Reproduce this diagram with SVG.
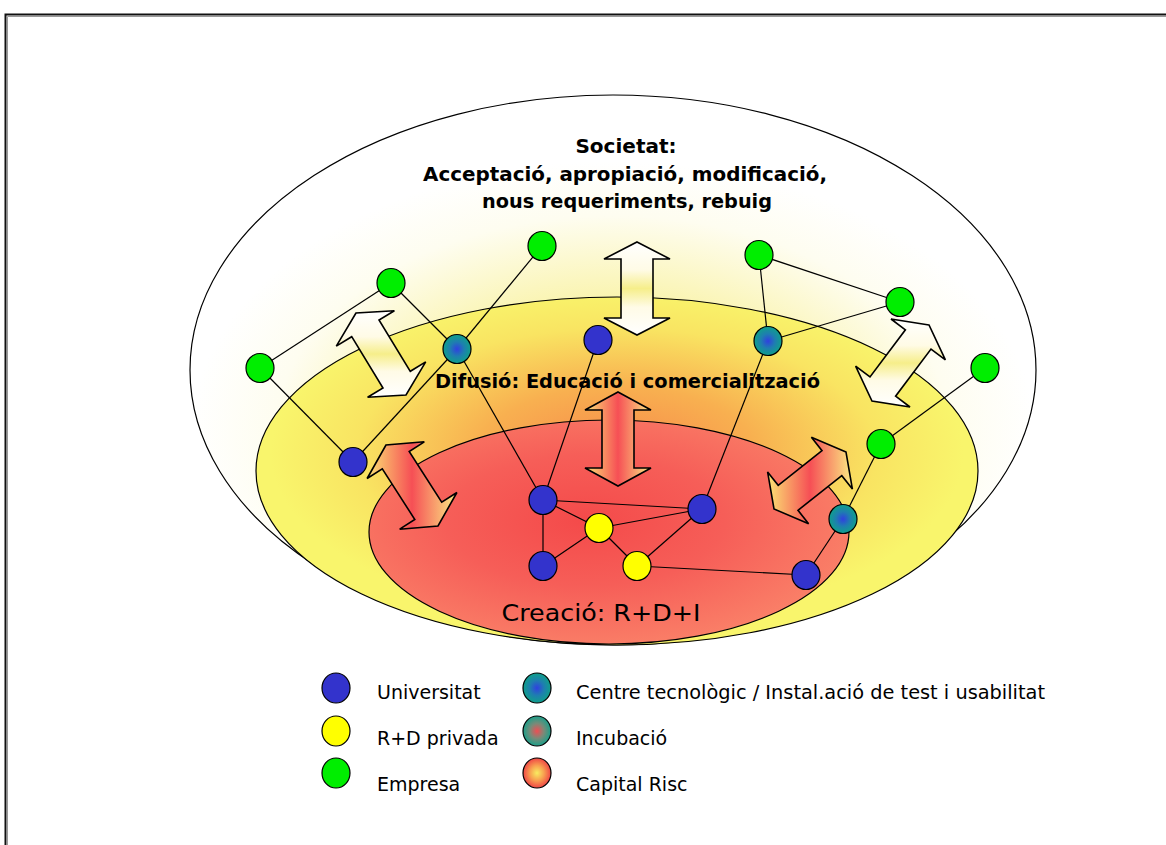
<svg xmlns="http://www.w3.org/2000/svg" width="1166" height="845" viewBox="0 0 1166 845">
  <defs>
    <radialGradient id="gSociety" cx="0.5" cy="0.62" r="0.5">
      <stop offset="0" stop-color="#f6ec60"/>
      <stop offset="0.5" stop-color="#faf4b0"/>
      <stop offset="0.8" stop-color="#fefdf0"/>
      <stop offset="1" stop-color="#ffffff"/>
    </radialGradient>
    <radialGradient id="gDiffusion" cx="0.5" cy="0.45" r="0.48">
      <stop offset="0" stop-color="#f7884a"/>
      <stop offset="0.4" stop-color="#f8b050"/>
      <stop offset="0.75" stop-color="#f9e462"/>
      <stop offset="1" stop-color="#f9f56c"/>
    </radialGradient>
    <radialGradient id="gCreation" cx="0.45" cy="0.45" r="0.58">
      <stop offset="0" stop-color="#f44a4a"/>
      <stop offset="0.5" stop-color="#f65e58"/>
      <stop offset="1" stop-color="#fa8068"/>
    </radialGradient>
    <linearGradient id="gWhiteArrow" x1="0" y1="0" x2="0" y2="1">
      <stop offset="0" stop-color="#ffffff"/>
      <stop offset="0.3" stop-color="#fffbe6"/>
      <stop offset="0.5" stop-color="#f6ee8a"/>
      <stop offset="0.7" stop-color="#fffbe6"/>
      <stop offset="1" stop-color="#ffffff"/>
    </linearGradient>
    <linearGradient id="gRedArrow" x1="0" y1="0" x2="1" y2="0">
      <stop offset="0" stop-color="#fbe574"/>
      <stop offset="0.5" stop-color="#f64f55"/>
      <stop offset="1" stop-color="#fbec84"/>
    </linearGradient>
    <radialGradient id="gTech" cx="0.5" cy="0.5" r="0.5">
      <stop offset="0" stop-color="#3040e0"/>
      <stop offset="0.5" stop-color="#1e7eb0"/>
      <stop offset="1" stop-color="#0fa08a"/>
    </radialGradient>
    <radialGradient id="gIncub" cx="0.5" cy="0.5" r="0.5">
      <stop offset="0" stop-color="#ee4e54"/>
      <stop offset="0.5" stop-color="#7a8a78"/>
      <stop offset="1" stop-color="#1aa08a"/>
    </radialGradient>
    <radialGradient id="gVenture" cx="0.5" cy="0.5" r="0.5">
      <stop offset="0" stop-color="#f8ec60"/>
      <stop offset="0.5" stop-color="#f8a050"/>
      <stop offset="1" stop-color="#f04646"/>
    </radialGradient>
  </defs>
  <style>
    .zone { stroke: #000; stroke-width: 1.2; }
    .arrow { stroke: #000; stroke-width: 1.6; stroke-linejoin: miter; }
    .white { fill: url(#gWhiteArrow); }
    .red { fill: url(#gRedArrow); }
    .link { stroke: #000; stroke-width: 1.2; fill: none; }
    .node { stroke: #000; stroke-width: 1.2; }
    .uni { fill: #3333cc; }
    .rd { fill: #ffff00; }
    .emp { fill: #00ee00; }
    .tech { fill: url(#gTech); }
    .incub { fill: url(#gIncub); }
    .venture { fill: url(#gVenture); }
    .label { font-family: "DejaVu Sans", Verdana, sans-serif; fill: #000; }
    .title { font-size: 20px; font-weight: bold; text-anchor: middle; }
    .legend { font-size: 19px; }
  </style>

  <rect x="0" y="0" width="1166" height="845" fill="#ffffff"/>
  <!-- page frame -->
  <path d="M5.5,845 V14.5 H1166" fill="none" stroke="#111" stroke-width="2"/>
  <path d="M7.5,845 V16.5 H1166" fill="none" stroke="#999" stroke-width="1"/>

  <!-- nested zones -->
  <g id="zone-societat">
    <ellipse class="zone" cx="613" cy="370" rx="423" ry="275" fill="url(#gSociety)"/>
  </g>
  <g id="zone-difusio">
    <ellipse class="zone" cx="617" cy="471" rx="361" ry="174" fill="url(#gDiffusion)"/>
  </g>
  <g id="zone-creacio">
    <ellipse class="zone" cx="609" cy="532" rx="240" ry="112" fill="url(#gCreation)"/>
  </g>

  <!-- exchange arrows between zones -->
  <g id="arrows">
    <path id="arrow-top" class="arrow white" d="M637,242 L670,259 L653,259 L653,318 L670,318 L637,335 L604,318 L621,318 L621,259 L604,259 Z"/>
    <path id="arrow-left-white" class="arrow white" d="M356,313 L336.3,346.1 L351.7,336.7 L383,388 L367.6,397.3 L406,395 L425.7,361.9 L410.3,371.3 L379,320 L394.4,310.7 Z"/>
    <path id="arrow-right-white" class="arrow white" d="M929,325 L891,319 L905.4,329.8 L870,377 L855.6,366.2 L872,401 L910,407 L895.6,396.2 L931,349 L945.4,359.8 Z"/>
    <path id="arrow-center-red" class="arrow red" d="M618,392 L651,410 L634,410 L634,468 L651,468 L618,486 L585,468 L602,468 L602,410 L585,410 Z"/>
    <path id="arrow-left-red" class="arrow red" d="M386,445 L367.1,478.5 L382.3,468.8 L414.8,519.5 L399.7,529.2 L438,526 L456.9,492.5 L441.7,502.2 L409.2,451.5 L424.3,441.8 Z"/>
    <path id="arrow-right-red" class="arrow red" d="M846,452 L811.4,437.3 L822,450.7 L778.2,485.3 L767.6,471.9 L774,509 L808.6,523.7 L798,510.3 L841.8,475.7 L852.4,489.1 Z"/>
  </g>

  <!-- connectors between actors -->
  <g id="connectors">
    <line class="link" x1="260" y1="368" x2="391" y2="283"/>
    <line class="link" x1="260" y1="368" x2="353" y2="462"/>
    <line class="link" x1="391" y1="283" x2="457" y2="349"/>
    <line class="link" x1="542" y1="246" x2="457" y2="349"/>
    <line class="link" x1="457" y1="349" x2="353" y2="462"/>
    <line class="link" x1="457" y1="349" x2="543" y2="500"/>
    <line class="link" x1="598" y1="340" x2="543" y2="500"/>
    <line class="link" x1="759" y1="255" x2="768" y2="341"/>
    <line class="link" x1="759" y1="255" x2="900" y2="302"/>
    <line class="link" x1="900" y1="302" x2="768" y2="341"/>
    <line class="link" x1="768" y1="341" x2="702" y2="509"/>
    <line class="link" x1="985" y1="368" x2="881" y2="444"/>
    <line class="link" x1="881" y1="444" x2="843" y2="519"/>
    <line class="link" x1="843" y1="519" x2="806" y2="575"/>
    <line class="link" x1="543" y1="500" x2="702" y2="509"/>
    <line class="link" x1="543" y1="500" x2="543" y2="566"/>
    <line class="link" x1="543" y1="500" x2="599" y2="528"/>
    <line class="link" x1="599" y1="528" x2="637" y2="566"/>
    <line class="link" x1="599" y1="528" x2="702" y2="509"/>
    <line class="link" x1="599" y1="528" x2="543" y2="566"/>
    <line class="link" x1="637" y1="566" x2="702" y2="509"/>
    <line class="link" x1="637" y1="566" x2="806" y2="575"/>
  </g>

  <!-- actors: empresa -->
  <g id="empresa-1"><ellipse class="node emp" cx="260" cy="368" rx="14" ry="14.5"/></g>
  <g id="empresa-2"><ellipse class="node emp" cx="391" cy="283" rx="14" ry="14.5"/></g>
  <g id="empresa-3"><ellipse class="node emp" cx="542" cy="246" rx="14" ry="14.5"/></g>
  <g id="empresa-4"><ellipse class="node emp" cx="759" cy="255" rx="14" ry="14.5"/></g>
  <g id="empresa-5"><ellipse class="node emp" cx="900" cy="302" rx="14" ry="14.5"/></g>
  <g id="empresa-6"><ellipse class="node emp" cx="985" cy="368" rx="14" ry="14.5"/></g>
  <g id="empresa-7"><ellipse class="node emp" cx="881" cy="444" rx="14" ry="14.5"/></g>
  <!-- actors: centres tecnologics -->
  <g id="centre-1"><ellipse class="node tech" cx="457" cy="349" rx="14" ry="14.5"/></g>
  <g id="centre-2"><ellipse class="node tech" cx="768" cy="341" rx="14" ry="14.5"/></g>
  <g id="centre-3"><ellipse class="node tech" cx="843" cy="519" rx="14" ry="14.5"/></g>
  <!-- actors: universitats -->
  <g id="universitat-1"><ellipse class="node uni" cx="353" cy="462" rx="14" ry="14.5"/></g>
  <g id="universitat-2"><ellipse class="node uni" cx="598" cy="340" rx="14" ry="14.5"/></g>
  <g id="universitat-3"><ellipse class="node uni" cx="543" cy="500" rx="14" ry="14.5"/></g>
  <g id="universitat-4"><ellipse class="node uni" cx="702" cy="509" rx="14" ry="14.5"/></g>
  <g id="universitat-5"><ellipse class="node uni" cx="543" cy="566" rx="14" ry="14.5"/></g>
  <g id="universitat-6"><ellipse class="node uni" cx="806" cy="575" rx="14" ry="14.5"/></g>
  <!-- actors: R+D privada -->
  <g id="rd-1"><ellipse class="node rd" cx="599" cy="528" rx="14" ry="14.5"/></g>
  <g id="rd-2"><ellipse class="node rd" cx="637" cy="566" rx="14" ry="14.5"/></g>

  <!-- zone labels -->
  <g id="labels" class="label">
    <text class="title" x="626" y="153">Societat:</text>
    <text class="title" x="625" y="181" textLength="404" lengthAdjust="spacingAndGlyphs">Acceptació,  apropiació, modificació,</text>
    <text class="title" x="627" y="208" textLength="290" lengthAdjust="spacingAndGlyphs">nous requeriments, rebuig</text>
    <text class="title" x="627.5" y="388" textLength="385" lengthAdjust="spacingAndGlyphs">Difusió: Educació i comercialització</text>
    <text x="601" y="621" font-size="23" text-anchor="middle" textLength="199" lengthAdjust="spacingAndGlyphs">Creació: R+D+I</text>
  </g>

  <!-- legend -->
  <g id="legend" class="label legend">
    <g id="legend-universitat">
      <ellipse class="node uni" cx="336" cy="688" rx="14" ry="15"/>
      <text x="377" y="699">Universitat</text>
    </g>
    <g id="legend-rd">
      <ellipse class="node rd" cx="336" cy="731" rx="14" ry="15"/>
      <text x="377" y="745">R+D privada</text>
    </g>
    <g id="legend-empresa">
      <ellipse class="node emp" cx="336" cy="773" rx="14" ry="15"/>
      <text x="377" y="791">Empresa</text>
    </g>
    <g id="legend-centre">
      <ellipse class="node tech" cx="537" cy="688" rx="14" ry="15"/>
      <text x="576" y="699" textLength="469" lengthAdjust="spacingAndGlyphs">Centre tecnològic / Instal.ació de test i usabilitat</text>
    </g>
    <g id="legend-incubacio">
      <ellipse class="node incub" cx="537" cy="731" rx="14" ry="15"/>
      <text x="576" y="745">Incubació</text>
    </g>
    <g id="legend-capital">
      <ellipse class="node venture" cx="537" cy="773" rx="14" ry="15"/>
      <text x="576" y="791">Capital Risc</text>
    </g>
  </g>
</svg>
